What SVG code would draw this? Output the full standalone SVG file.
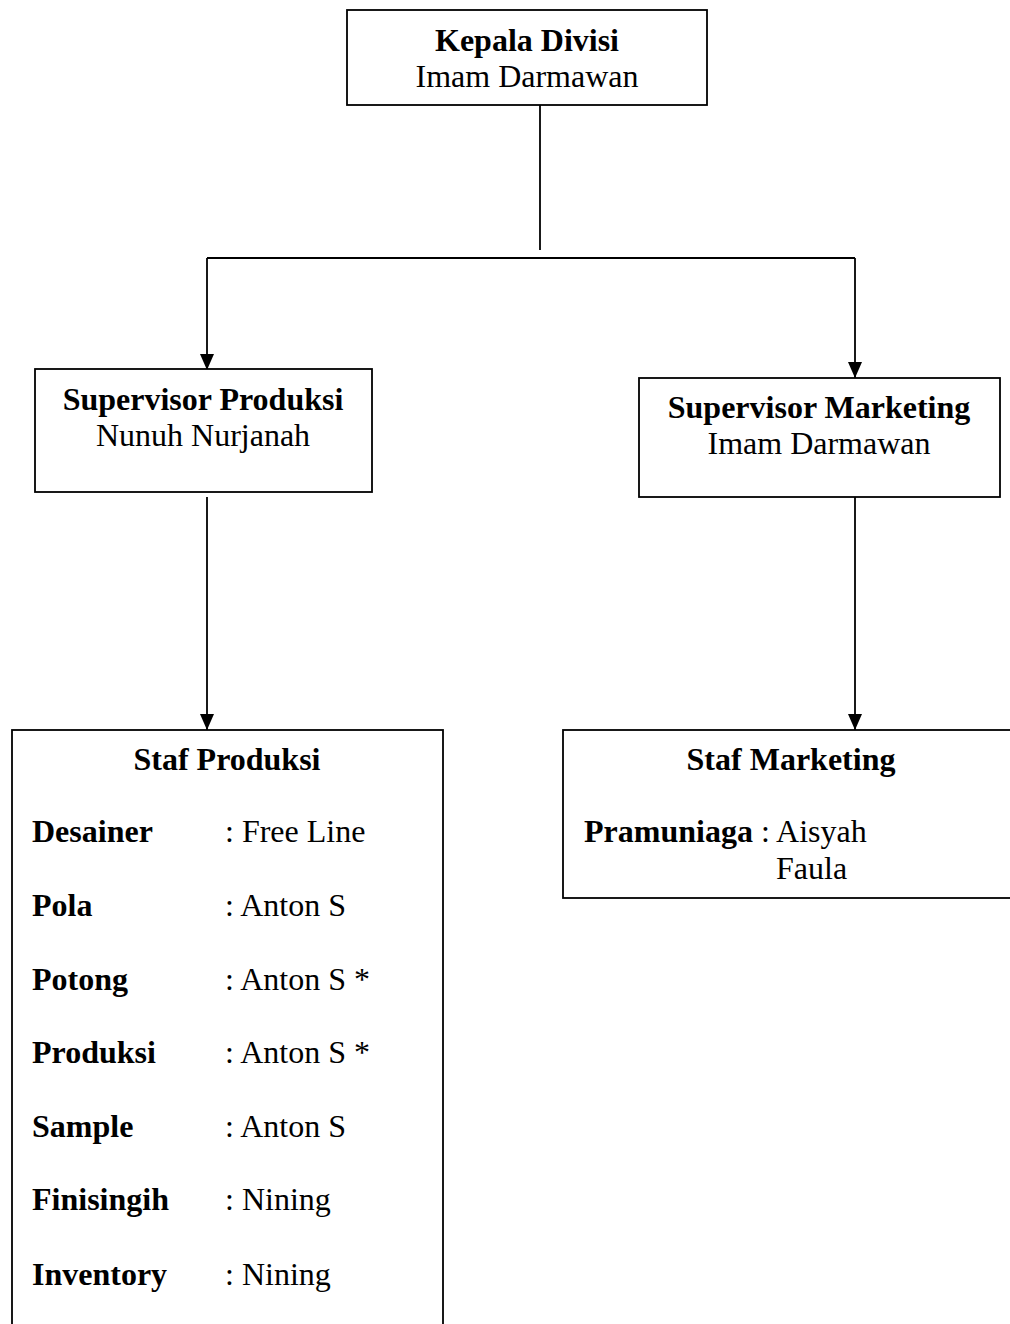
<svg xmlns="http://www.w3.org/2000/svg" width="1010" height="1324" viewBox="0 0 1010 1324">
<style>
.box{fill:#fff;stroke:#000;stroke-width:1.8}
.ln{fill:none;stroke:#000;stroke-width:1.8}
text{font-family:"Liberation Serif","Times New Roman",serif;font-size:32px;fill:#000}
.b{font-weight:bold}
.c{text-anchor:middle}
</style>
<defs>
<marker id="arr" markerWidth="16" markerHeight="14" refX="16" refY="7" orient="auto" markerUnits="userSpaceOnUse" viewBox="0 0 16 14">
<path d="M0,0 L16,7 L0,14 Z" fill="#000"/>
</marker>
</defs>
<g id="connectors">
<line class="ln" x1="540" y1="105" x2="540" y2="250"/>
<line class="ln" x1="207" y1="258" x2="855" y2="258"/>
<path class="ln" d="M207,258 L207,370" marker-end="url(#arr)"/>
<path class="ln" d="M855,258 L855,378" marker-end="url(#arr)"/>
<path class="ln" d="M207,497 L207,730" marker-end="url(#arr)"/>
<path class="ln" d="M855,497 L855,730" marker-end="url(#arr)"/>
</g>
<g id="kepala-divisi">
<rect class="box" x="347" y="10" width="360" height="95"/>
<text class="b c" x="527" y="51">Kepala Divisi</text>
<text class="c" x="527" y="87">Imam Darmawan</text>
</g>
<g id="supervisor-produksi">
<rect class="box" x="35" y="369" width="337" height="123"/>
<text class="b c" x="203" y="410">Supervisor Produksi</text>
<text class="c" x="203" y="446">Nunuh Nurjanah</text>
</g>
<g id="supervisor-marketing">
<rect class="box" x="639" y="378" width="361" height="119"/>
<text class="b c" x="819" y="418">Supervisor Marketing</text>
<text class="c" x="819" y="454">Imam Darmawan</text>
</g>
<g id="staf-produksi">
<rect class="box" x="12" y="730" width="431" height="620"/>
<text class="b c" x="227" y="770">Staf Produksi</text>
<text class="b" x="32" y="842">Desainer</text><text x="225" y="842">: Free Line</text>
<text class="b" x="32" y="916">Pola</text><text x="225" y="916">: Anton S</text>
<text class="b" x="32" y="990">Potong</text><text x="225" y="990">: Anton S *</text>
<text class="b" x="32" y="1063">Produksi</text><text x="225" y="1063">: Anton S *</text>
<text class="b" x="32" y="1137">Sample</text><text x="225" y="1137">: Anton S</text>
<text class="b" x="32" y="1210">Finisingih</text><text x="225" y="1210">: Nining</text>
<text class="b" x="32" y="1285">Inventory</text><text x="225" y="1285">: Nining</text>
</g>
<g id="staf-marketing">
<rect class="box" x="563" y="730" width="460" height="168"/>
<text class="b c" x="791" y="770">Staf Marketing</text>
<text x="584" y="842"><tspan class="b">Pramuniaga</tspan> : Aisyah</text>
<text x="776" y="879">Faula</text>
</g>
</svg>
